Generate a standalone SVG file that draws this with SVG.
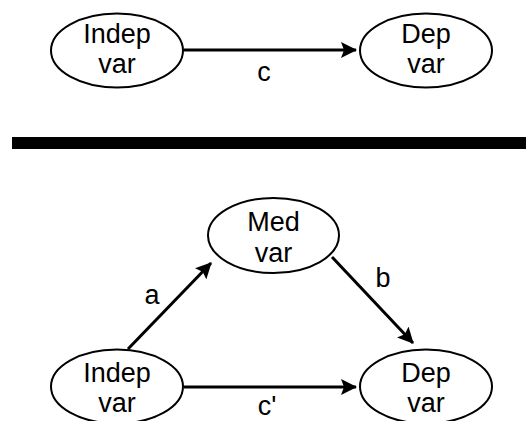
<svg xmlns="http://www.w3.org/2000/svg" width="526" height="421" viewBox="0 0 526 421">
<style>
.node ellipse{fill:#fff;stroke:#000;stroke-width:2}
text{font-family:"Liberation Sans",Arial,sans-serif;font-size:27px;fill:#000;text-anchor:middle}
.conn line{stroke:#000;stroke-width:3;marker-end:url(#ah)}
</style>
<defs>
<marker id="ah" viewBox="0 0 16 16" refX="15" refY="8" markerWidth="16" markerHeight="16" markerUnits="userSpaceOnUse" orient="auto">
<path d="M0,0 L16,8 L0,16 L3,8 Z" fill="#000"/>
</marker>
</defs>
<rect width="526" height="421" fill="#fff"/>
<g class="conn" id="connectors">
<line x1="184" y1="50" x2="356" y2="50"/>
<line x1="128" y1="349" x2="211" y2="263"/>
<line x1="332" y1="257" x2="413" y2="343"/>
<line x1="184" y1="387" x2="356" y2="387"/>
</g>
<g id="labels">
<text x="264" y="81">c</text>
<text x="152" y="304">a</text>
<text x="383" y="287">b</text>
<text x="267" y="415">c'</text>
</g>
<rect id="divider" x="12" y="137" width="514" height="12" fill="#000"/>
<g class="node" id="top-indep"><ellipse cx="117" cy="50.5" rx="66" ry="37"/><text x="117" y="43">Indep</text><text x="117" y="73">var</text></g>
<g class="node" id="top-dep"><ellipse cx="426" cy="50.5" rx="66" ry="37"/><text x="426" y="43">Dep</text><text x="426" y="73">var</text></g>
<g class="node" id="med"><ellipse cx="273.5" cy="235.5" rx="65.5" ry="37.5"/><text x="273.5" y="231">Med</text><text x="273.5" y="262">var</text></g>
<g class="node" id="bot-indep"><ellipse cx="117" cy="386.5" rx="66" ry="37"/><text x="117" y="382">Indep</text><text x="117" y="412">var</text></g>
<g class="node" id="bot-dep"><ellipse cx="426" cy="386.5" rx="66" ry="37"/><text x="426" y="382">Dep</text><text x="426" y="412">var</text></g>
</svg>
